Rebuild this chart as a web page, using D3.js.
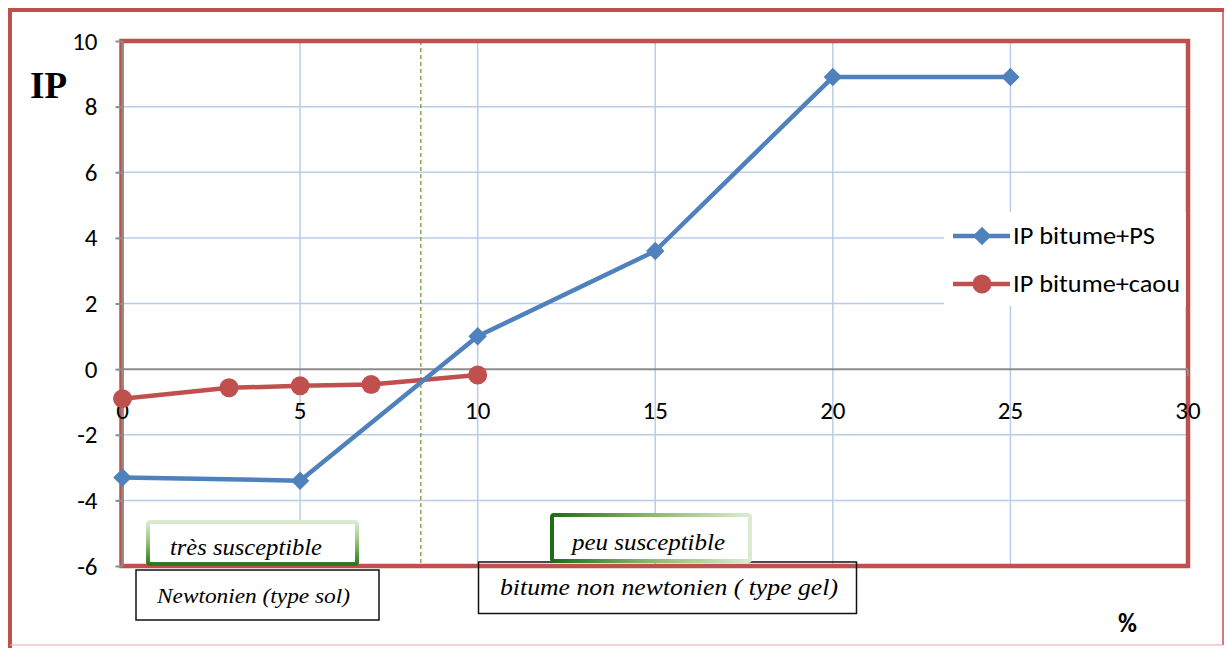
<!DOCTYPE html>
<html>
<head>
<meta charset="utf-8">
<script src="https://cdn.jsdelivr.net/npm/d3@7"></script>
<style>
  html, body { margin: 0; padding: 0; background: #fff; }
  svg { display: block; }
</style>
</head>
<body>
<svg id="chart" width="1226" height="648"></svg>
<script>
// IP values of modified bitumen versus additive content (%)
const psPercent = [0, 5, 10, 15, 20, 25];
const psIP = [-3.3, -3.4, 1.0, 3.6, 8.9, 8.9];
const caouPercent = [0, 3, 5, 7, 10];
const caouIP = [-0.9, -0.57, -0.51, -0.47, -0.18];
const seriesNames = ["IP bitume+PS", "IP bitume+caou"];
const xTicks = [0, 5, 10, 15, 20, 25, 30];
const yTicks = [-6, -4, -2, 0, 2, 4, 6, 8, 10];
const thresholdPercent = 8.4;

const BLUE = "#4F81BD", RED = "#C0504D", GRID = "#b9cde8", AXIS = "#8c8c8c";
const NUMFONT = "Carlito, Lato, 'Open Sans', sans-serif";
const SERIF = "'Liberation Serif', 'DejaVu Serif', serif";

const svg = d3.select("#chart");
const x = d3.scaleLinear().domain([0, 30]).range([122.5, 1188]);
const y = d3.scaleLinear().domain([-6, 10]).range([566, 41]);

// Outer frame
svg.append("line").attr("x1", 10).attr("y1", 8).attr("x2", 10).attr("y2", 648)
  .attr("stroke", RED).attr("stroke-width", 4);
svg.append("line").attr("x1", 8).attr("y1", 10).attr("x2", 1224).attr("y2", 10)
  .attr("stroke", RED).attr("stroke-width", 4);
svg.append("line").attr("x1", 1223).attr("y1", 10).attr("x2", 1223).attr("y2", 645)
  .attr("stroke", RED).attr("stroke-width", 1.5);
svg.append("line").attr("x1", 10).attr("y1", 645).attr("x2", 1223).attr("y2", 645)
  .attr("stroke", "#e3a8a6").attr("stroke-width", 1.2);

// Gridlines
const g = svg.append("g");
g.selectAll("line.vg").data(xTicks.filter(d => d > 0 && d < 30)).join("line")
  .attr("x1", d => x(d)).attr("x2", d => x(d)).attr("y1", y(10)).attr("y2", y(-6))
  .attr("stroke", GRID).attr("stroke-width", 1.5);
g.selectAll("line.hg").data(yTicks.filter(d => d !== 0 && d > -6 && d < 10)).join("line")
  .attr("x1", x(0)).attr("x2", x(30)).attr("y1", d => y(d)).attr("y2", d => y(d))
  .attr("stroke", GRID).attr("stroke-width", 1.5);

// Threshold between the two behaviours
svg.append("line")
  .attr("x1", x(thresholdPercent)).attr("x2", x(thresholdPercent))
  .attr("y1", y(10)).attr("y2", y(-6))
  .attr("stroke", "#7a9a3a").attr("stroke-width", 1.3).attr("stroke-dasharray", "4,3");

// Plot-area border
svg.append("rect").attr("x", x(0) - 1).attr("y", y(10)).attr("width", x(30) - x(0) + 1)
  .attr("height", y(-6) - y(10)).attr("fill", "none").attr("stroke", RED).attr("stroke-width", 4.5);

// Axes
const yAxis = d3.axisLeft(y).tickValues(yTicks).tickSize(7).tickPadding(18);
const ya = svg.append("g").attr("transform", `translate(${x(0)},0)`).call(yAxis);
ya.select(".domain").attr("stroke", AXIS).attr("stroke-width", 2).attr("d", `M0,${y(10)}V${y(-6)}`);
ya.selectAll(".tick line").attr("stroke", AXIS).attr("stroke-width", 2);
ya.selectAll(".tick text").attr("font-family", NUMFONT).attr("font-size", 25).attr("fill", "#000")
  .text(d => String(d));

svg.append("line").attr("x1", x(0)).attr("x2", x(30)).attr("y1", y(0)).attr("y2", y(0))
  .attr("stroke", AXIS).attr("stroke-width", 2);
svg.append("line").attr("x1", x(30)).attr("x2", x(30)).attr("y1", y(0)).attr("y2", y(0) + 7)
  .attr("stroke", AXIS).attr("stroke-width", 2);
svg.append("g").selectAll("text").data(xTicks).join("text")
  .attr("x", d => x(d)).attr("y", y(0) + 50).attr("text-anchor", "middle")
  .attr("font-family", NUMFONT).attr("font-size", 25).attr("fill", "#000")
  .text(d => d);

// Axis titles
svg.append("text").attr("x", 30).attr("y", 98).attr("font-family", SERIF)
  .attr("font-weight", "bold").attr("font-size", 37).text("IP");
svg.append("text").attr("x", 1118).attr("y", 632).attr("font-family", NUMFONT)
  .attr("font-weight", "bold").attr("font-size", 26).text("%");

// Series (rubber first, polystyrene drawn over it)
const line = d3.line().x(d => x(d[0])).y(d => y(d[1]));
const psData = psPercent.map((p, i) => [p, psIP[i]]);
const caouData = caouPercent.map((p, i) => [p, caouIP[i]]);
const diamond = d3.symbol().type(d3.symbolSquare).size(170);

svg.append("path").datum(caouData).attr("d", line).attr("fill", "none")
  .attr("stroke", RED).attr("stroke-width", 4.5).attr("stroke-linejoin", "round");
svg.append("g").selectAll("circle").data(caouData).join("circle")
  .attr("cx", d => x(d[0])).attr("cy", d => y(d[1])).attr("r", 9.5).attr("fill", RED);

svg.append("path").datum(psData).attr("d", line).attr("fill", "none")
  .attr("stroke", BLUE).attr("stroke-width", 4.5).attr("stroke-linejoin", "round");
svg.append("g").selectAll("path").data(psData).join("path")
  .attr("d", diamond).attr("fill", BLUE)
  .attr("transform", d => `translate(${x(d[0])},${y(d[1])}) rotate(45)`);

// Legend
const lg = svg.append("g");
lg.append("rect").attr("x", 944).attr("y", 212).attr("width", 242).attr("height", 94).attr("fill", "#fff");
const legendRows = [
  { name: seriesNames[0], color: BLUE, shape: "diamond", cy: 236, tl: 142 },
  { name: seriesNames[1], color: RED, shape: "circle", cy: 284, tl: 167 }
];
legendRows.forEach(r => {
  lg.append("line").attr("x1", 953).attr("x2", 1010).attr("y1", r.cy).attr("y2", r.cy)
    .attr("stroke", r.color).attr("stroke-width", 4.5);
  if (r.shape === "diamond") {
    lg.append("path").attr("d", diamond).attr("fill", r.color)
      .attr("transform", `translate(982,${r.cy}) rotate(45)`);
  } else {
    lg.append("circle").attr("cx", 982).attr("cy", r.cy).attr("r", 9.5).attr("fill", r.color);
  }
  lg.append("text").attr("x", 1013).attr("y", r.cy + 8).attr("font-family", NUMFONT)
    .attr("font-size", 25).attr("fill", "#000")
    .attr("textLength", r.tl).attr("lengthAdjust", "spacingAndGlyphs").text(r.name);
});

// Annotation boxes
const defs = svg.append("defs");
const gv = defs.append("linearGradient").attr("id", "gVert").attr("x1", 0).attr("y1", 0).attr("x2", 0).attr("y2", 1);
gv.append("stop").attr("offset", "0%").attr("stop-color", "#dcebd0");
gv.append("stop").attr("offset", "45%").attr("stop-color", "#9cc47e");
gv.append("stop").attr("offset", "100%").attr("stop-color", "#2a7a1e");
const gh = defs.append("linearGradient").attr("id", "gHor").attr("x1", 0).attr("y1", 0).attr("x2", 1).attr("y2", 0);
gh.append("stop").attr("offset", "0%").attr("stop-color", "#1d6e16");
gh.append("stop").attr("offset", "50%").attr("stop-color", "#8cb86a");
gh.append("stop").attr("offset", "100%").attr("stop-color", "#dcebd0");

function textBox(b) {
  svg.append("rect").attr("x", b.x).attr("y", b.y).attr("width", b.w).attr("height", b.h)
    .attr("rx", b.rx || 0).attr("fill", b.fill).attr("stroke", b.stroke).attr("stroke-width", b.sw);
  svg.append("text").attr("x", b.tx).attr("y", b.ty).attr("font-family", SERIF)
    .attr("font-style", "italic").attr("font-size", b.fs).attr("fill", "#000")
    .attr("textLength", b.tl).attr("lengthAdjust", "spacingAndGlyphs").text(b.text);
}
textBox({ x: 148, y: 522, w: 209, h: 42, rx: 2, fill: "#fff", stroke: "url(#gVert)", sw: 4,
  tx: 170, ty: 555, fs: 24, tl: 152, text: "très susceptible" });
textBox({ x: 136, y: 570, w: 243, h: 50, fill: "#fff", stroke: "#111", sw: 1.5,
  tx: 157, ty: 603, fs: 20, tl: 193, text: "Newtonien (type sol)" });
textBox({ x: 478.5, y: 562, w: 378, h: 51.5, fill: "none", stroke: "#111", sw: 1.5,
  tx: 500, ty: 595, fs: 24, tl: 338, text: "bitume non newtonien ( type gel)" });
textBox({ x: 552, y: 515, w: 198, h: 46, rx: 2, fill: "#fff", stroke: "url(#gHor)", sw: 4,
  tx: 572, ty: 550, fs: 24, tl: 153, text: "peu susceptible" });
</script>
</body>
</html>
